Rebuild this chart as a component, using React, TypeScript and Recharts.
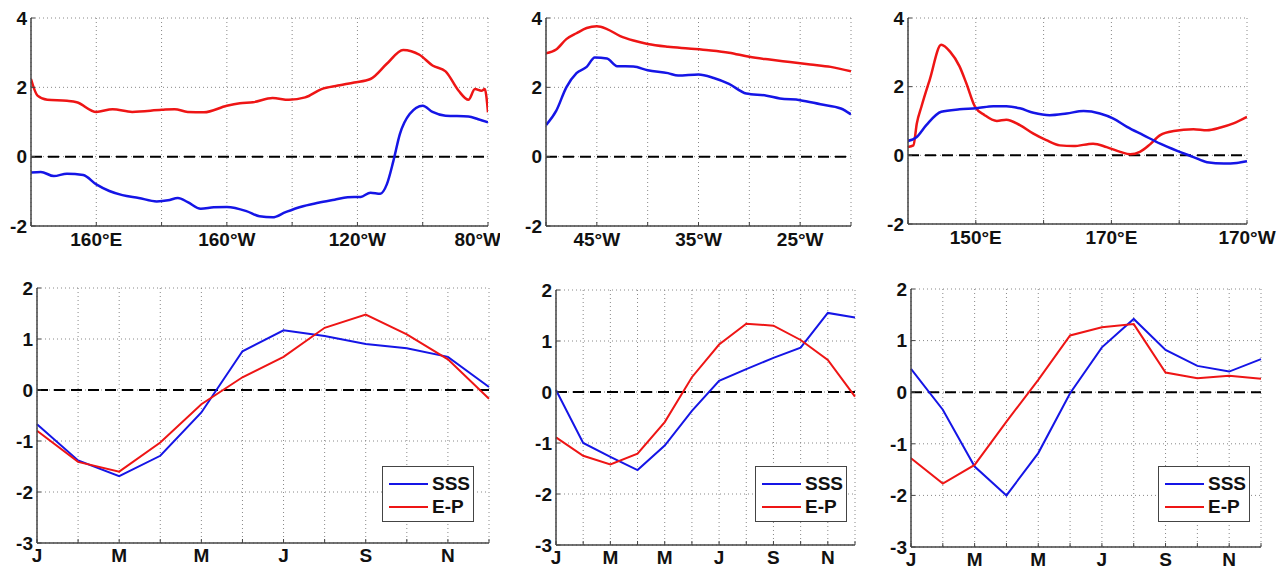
import React from "react";
import {
  LineChart,
  Line,
  XAxis,
  YAxis,
  CartesianGrid,
  ReferenceLine,
  Legend,
} from "recharts";

// top row: along-longitude profiles (deg east, or negative = west in panel 2)
const p1RedLon = [140, 142, 145, 151, 154, 160, 165, 171, 180, 184, 188, 193, 200, 204, 208, 214, 219, 224, 229, 234, 239, 244, 249, 254, 259, 263, 267, 271, 274, 276, 278, 279, 280];
const p1RedVal = [2.24, 1.76, 1.64, 1.61, 1.57, 1.29, 1.37, 1.29, 1.35, 1.37, 1.29, 1.28, 1.47, 1.54, 1.57, 1.69, 1.64, 1.71, 1.95, 2.05, 2.14, 2.24, 2.68, 3.08, 2.94, 2.63, 2.46, 1.9, 1.64, 1.95, 1.9, 1.95, 1.28];
const p1BlueLon = [140, 143, 147, 151, 156, 160, 164, 168, 173, 178.5, 182, 185, 188, 192, 196, 200, 206, 210, 214, 218, 222.5, 228, 233, 237, 241, 244, 247, 249, 251, 253, 256, 260, 263, 267, 274, 277, 280];
const p1BlueVal = [-0.46, -0.44, -0.56, -0.49, -0.53, -0.8, -0.99, -1.11, -1.19, -1.29, -1.26, -1.19, -1.31, -1.5, -1.46, -1.45, -1.57, -1.72, -1.75, -1.6, -1.45, -1.33, -1.24, -1.17, -1.16, -1.04, -1.07, -0.8, -0.13, 0.65, 1.23, 1.47, 1.29, 1.18, 1.16, 1.08, 0.99];

const p2RedLon = [-50, -49, -48, -47, -46, -45, -44, -42.7, -41.4, -40, -38, -36, -34, -32, -30, -28, -26, -24, -22, -20];
const p2RedVal = [2.98, 3.09, 3.39, 3.56, 3.71, 3.76, 3.68, 3.48, 3.35, 3.25, 3.17, 3.12, 3.07, 3.0, 2.88, 2.8, 2.73, 2.66, 2.59, 2.46];
const p2BlueLon = [-50, -49, -48, -47, -46, -45.2, -44, -43, -41.4, -40, -38, -37, -35, -33.5, -32, -30.3, -28.3, -27, -25, -23, -21, -20];
const p2BlueVal = [0.91, 1.32, 2.0, 2.41, 2.59, 2.86, 2.83, 2.61, 2.6, 2.49, 2.41, 2.34, 2.37, 2.27, 2.1, 1.82, 1.76, 1.68, 1.63, 1.51, 1.39, 1.22];

const p3RedLon = [140, 140.8, 141.3, 142, 143.2, 144.9, 146.2, 147.6, 148.6, 149.9, 151.3, 153.1, 154.5, 156.5, 158.5, 160.4, 162.4, 164.4, 167.3, 169.3, 171.3, 172.8, 174.2, 175.7, 177.2, 179.2, 182.1, 184.1, 186.1, 188, 190];
const p3RedVal = [0.24, 0.29, 0.93, 1.43, 2.2, 3.22, 3.02, 2.59, 2.1, 1.41, 1.17, 1.0, 1.04, 0.88, 0.63, 0.44, 0.29, 0.27, 0.34, 0.24, 0.1, 0.03, 0.1, 0.32, 0.59, 0.71, 0.76, 0.73, 0.81, 0.93, 1.12];
const p3BlueLon = [140, 141.2, 142.7, 144.9, 147.6, 150.1, 152.6, 154.5, 156.5, 158.5, 160.9, 163.4, 165.9, 168.3, 170.3, 172.3, 174.7, 177.2, 179.7, 182.1, 184.1, 186.6, 188.5, 190];
const p3BlueVal = [0.42, 0.52, 0.88, 1.27, 1.34, 1.37, 1.43, 1.43, 1.37, 1.24, 1.17, 1.22, 1.29, 1.22, 1.07, 0.83, 0.59, 0.34, 0.13, -0.05, -0.2, -0.24, -0.22, -0.17];

// bottom row: monthly climatology
const months = ["J", "F", "M", "A", "M", "J", "J", "A", "S", "O", "N", "D"];
const p4Sss = [-0.67, -1.38, -1.69, -1.29, -0.44, 0.76, 1.17, 1.06, 0.9, 0.82, 0.65, 0.06];
const p4Ep = [-0.8, -1.41, -1.6, -1.03, -0.28, 0.25, 0.65, 1.22, 1.48, 1.09, 0.6, -0.17];
const p5Sss = [0.04, -1.0, -1.27, -1.53, -1.05, -0.37, 0.22, 0.45, 0.67, 0.87, 1.55, 1.46];
const p5Ep = [-0.89, -1.25, -1.42, -1.21, -0.59, 0.29, 0.93, 1.34, 1.3, 1.02, 0.63, -0.09];
const p6Sss = [0.45, -0.34, -1.44, -2.0, -1.18, -0.02, 0.87, 1.42, 0.82, 0.51, 0.4, 0.64];
const p6Ep = [-1.28, -1.77, -1.41, -0.57, 0.24, 1.1, 1.26, 1.32, 0.38, 0.27, 0.32, 0.26];

const legendOrder = ["SSS", "E-P"];
const topYTicks = [-2, 0, 2, 4];
const bottomYTicks = [-3, -2, -1, 0, 1, 2];

const FONT = "'Liberation Sans', Arial, sans-serif";
const BOX = "#444";
const BLUE = "#1515e6";
const RED = "#ee1515";
const tickStyle = { fontSize: 19, fontWeight: 700, fill: "#111", fontFamily: FONT };

const pair = (xs: number[], ys: number[]) => xs.map((x, i) => ({ x, v: ys[i] }));

const lonEW = (lon: number) => {
  if (lon === 180) return "180°";
  if (lon < 180) return `${lon}°E`;
  return `${360 - lon}°W`;
};

const onlyLabels = (labels: number[], fmt: (n: number) => string) => (v: number) =>
  labels.includes(v) ? fmt(v) : "";

type Frame = {
  left: number;
  top: number;
  width: number;
  height: number;
  yw: number;
  right: number;
  mt: number;
  xh: number;
};

// matlab style box: frame on four sides with short inward ticks
const boxAxes = (xDomain: number[], xTicks: number[], yDomain: number[], yTicks: number[]) => [
  <XAxis
    key="xt"
    xAxisId="t"
    orientation="top"
    type="number"
    dataKey="x"
    domain={xDomain}
    ticks={xTicks}
    height={0}
    tick={false}
    tickSize={-4}
    axisLine={{ stroke: BOX, strokeWidth: 1.5 }}
    tickLine={{ stroke: BOX }}
  />,
  <YAxis
    key="yr"
    yAxisId="r"
    orientation="right"
    type="number"
    domain={yDomain}
    ticks={yTicks}
    width={0}
    tick={false}
    tickSize={-4}
    axisLine={{ stroke: BOX, strokeWidth: 1.5 }}
    tickLine={{ stroke: BOX }}
  />,
];

const TopPanel = ({
  f,
  red,
  blue,
  xDomain,
  xTicks,
  fmt,
}: {
  f: Frame;
  red: { x: number; v: number }[];
  blue: { x: number; v: number }[];
  xDomain: number[];
  xTicks: number[];
  fmt: (v: number) => string;
}) => (
  <div style={{ position: "absolute", left: f.left, top: f.top }}>
    <LineChart width={f.width} height={f.height} margin={{ top: f.mt, right: f.right, bottom: 0, left: 0 }}>
      <CartesianGrid stroke="#888" strokeDasharray="1 3" />
      <XAxis
        type="number"
        dataKey="x"
        domain={xDomain}
        ticks={xTicks}
        tickFormatter={fmt}
        height={f.xh}
        tick={tickStyle}
        tickSize={-4}
        tickMargin={11}
        axisLine={{ stroke: BOX, strokeWidth: 1.5 }}
        tickLine={{ stroke: BOX }}
        allowDataOverflow
      />
      <YAxis
        type="number"
        domain={[-2, 4]}
        ticks={topYTicks}
        width={f.yw}
        tick={tickStyle}
        tickSize={-4}
        tickMargin={8}
        axisLine={{ stroke: BOX, strokeWidth: 1.5 }}
        tickLine={{ stroke: BOX }}
      />
      {boxAxes(xDomain, xTicks, [-2, 4], topYTicks)}
      <ReferenceLine y={0} stroke="#000" strokeWidth={2} strokeDasharray="11 6" />
      <Line data={red} dataKey="v" type="monotone" stroke={RED} strokeWidth={2.5} dot={false} isAnimationActive={false} />
      <Line data={blue} dataKey="v" type="monotone" stroke={BLUE} strokeWidth={2.5} dot={false} isAnimationActive={false} />
    </LineChart>
  </div>
);

const LegendBox = (props: any) => {
  const items = [...(props.payload || [])].sort(
    (a: any, b: any) => legendOrder.indexOf(a.value) - legendOrder.indexOf(b.value)
  );
  return (
    <div
      style={{
        width: 92,
        height: 56,
        boxSizing: "border-box",
        border: `1.5px solid ${BOX}`,
        background: "#fff",
        padding: "5px 0 0 6px",
        fontFamily: FONT,
        fontWeight: 700,
        fontSize: 19,
        color: "#111",
      }}
    >
      {items.map((e: any) => (
        <div key={e.value} style={{ display: "flex", alignItems: "center", height: 23 }}>
          <span style={{ display: "inline-block", width: 39, height: 2, background: e.color, marginRight: 4 }} />
          <span>{e.value}</span>
        </div>
      ))}
    </div>
  );
};

const monthTicks = months.map((_, i) => i);

const BottomPanel = ({
  f,
  sss,
  ep,
  legendLeft,
}: {
  f: Frame;
  sss: number[];
  ep: number[];
  legendLeft: number;
}) => {
  const data = months.map((m, i) => ({ x: i, sss: sss[i], ep: ep[i] }));
  return (
    <div style={{ position: "absolute", left: f.left, top: f.top }}>
      <LineChart width={f.width} height={f.height} data={data} margin={{ top: f.mt, right: f.right, bottom: 0, left: 0 }}>
        <CartesianGrid stroke="#888" strokeDasharray="1 3" />
        <XAxis
          type="number"
          dataKey="x"
          domain={[0, 11]}
          ticks={monthTicks}
          tickFormatter={(v: number) => (v % 2 === 0 ? months[v] : "")}
          height={f.xh}
          tick={tickStyle}
          tickSize={-4}
          tickMargin={10}
          axisLine={{ stroke: BOX, strokeWidth: 1.5 }}
          tickLine={{ stroke: BOX }}
        />
        <YAxis
          type="number"
          domain={[-3, 2]}
          ticks={bottomYTicks}
          width={f.yw}
          tick={tickStyle}
          tickSize={-4}
          tickMargin={8}
          axisLine={{ stroke: BOX, strokeWidth: 1.5 }}
          tickLine={{ stroke: BOX }}
        />
        {boxAxes([0, 11], monthTicks, [-3, 2], bottomYTicks)}
        <ReferenceLine y={0} stroke="#000" strokeWidth={2} strokeDasharray="11 6" />
        <Line dataKey="sss" name="SSS" type="linear" stroke={BLUE} strokeWidth={2} dot={false} isAnimationActive={false} />
        <Line dataKey="ep" name="E-P" type="linear" stroke={RED} strokeWidth={2} dot={false} isAnimationActive={false} />
        <Legend
          layout="vertical"
          align="center"
          verticalAlign="middle"
          content={LegendBox}
          wrapperStyle={{ left: legendLeft, top: 196, width: 92, height: 56 }}
        />
      </LineChart>
    </div>
  );
};

export default function App() {
  return (
    <div style={{ position: "absolute", left: 0, top: 0, width: 1282, height: 569, background: "#fff", fontFamily: FONT }}>
      <TopPanel
        f={{ left: 0, top: 0, width: 500, height: 260, yw: 31, right: 12, mt: 18, xh: 34 }}
        red={pair(p1RedLon, p1RedVal)}
        blue={pair(p1BlueLon, p1BlueVal)}
        xDomain={[140, 280]}
        xTicks={[140, 160, 180, 200, 220, 240, 260, 280]}
        fmt={onlyLabels([160, 200, 240, 280], lonEW)}
      />
      <TopPanel
        f={{ left: 500, top: 0, width: 370, height: 260, yw: 46, right: 19, mt: 18, xh: 34 }}
        red={pair(p2RedLon, p2RedVal)}
        blue={pair(p2BlueLon, p2BlueVal)}
        xDomain={[-50, -20]}
        xTicks={[-50, -45, -40, -35, -30, -25, -20]}
        fmt={onlyLabels([-45, -35, -25], (v) => `${-v}°W`)}
      />
      <TopPanel
        f={{ left: 870, top: 0, width: 412, height: 260, yw: 38, right: 35, mt: 18, xh: 36 }}
        red={pair(p3RedLon, p3RedVal)}
        blue={pair(p3BlueLon, p3BlueVal)}
        xDomain={[140, 190]}
        xTicks={[140, 150, 160, 170, 180, 190]}
        fmt={onlyLabels([150, 170, 190], lonEW)}
      />
      <BottomPanel
        f={{ left: 0, top: 270, width: 500, height: 299, yw: 37, right: 11, mt: 18, xh: 26 }}
        sss={p4Sss}
        ep={p4Ep}
        legendLeft={382}
      />
      <BottomPanel
        f={{ left: 500, top: 270, width: 370, height: 299, yw: 56, right: 15, mt: 20, xh: 24 }}
        sss={p5Sss}
        ep={p5Ep}
        legendLeft={255}
      />
      <BottomPanel
        f={{ left: 870, top: 270, width: 412, height: 299, yw: 41, right: 21, mt: 19, xh: 22 }}
        sss={p6Sss}
        ep={p6Ep}
        legendLeft={288}
      />
    </div>
  );
}
